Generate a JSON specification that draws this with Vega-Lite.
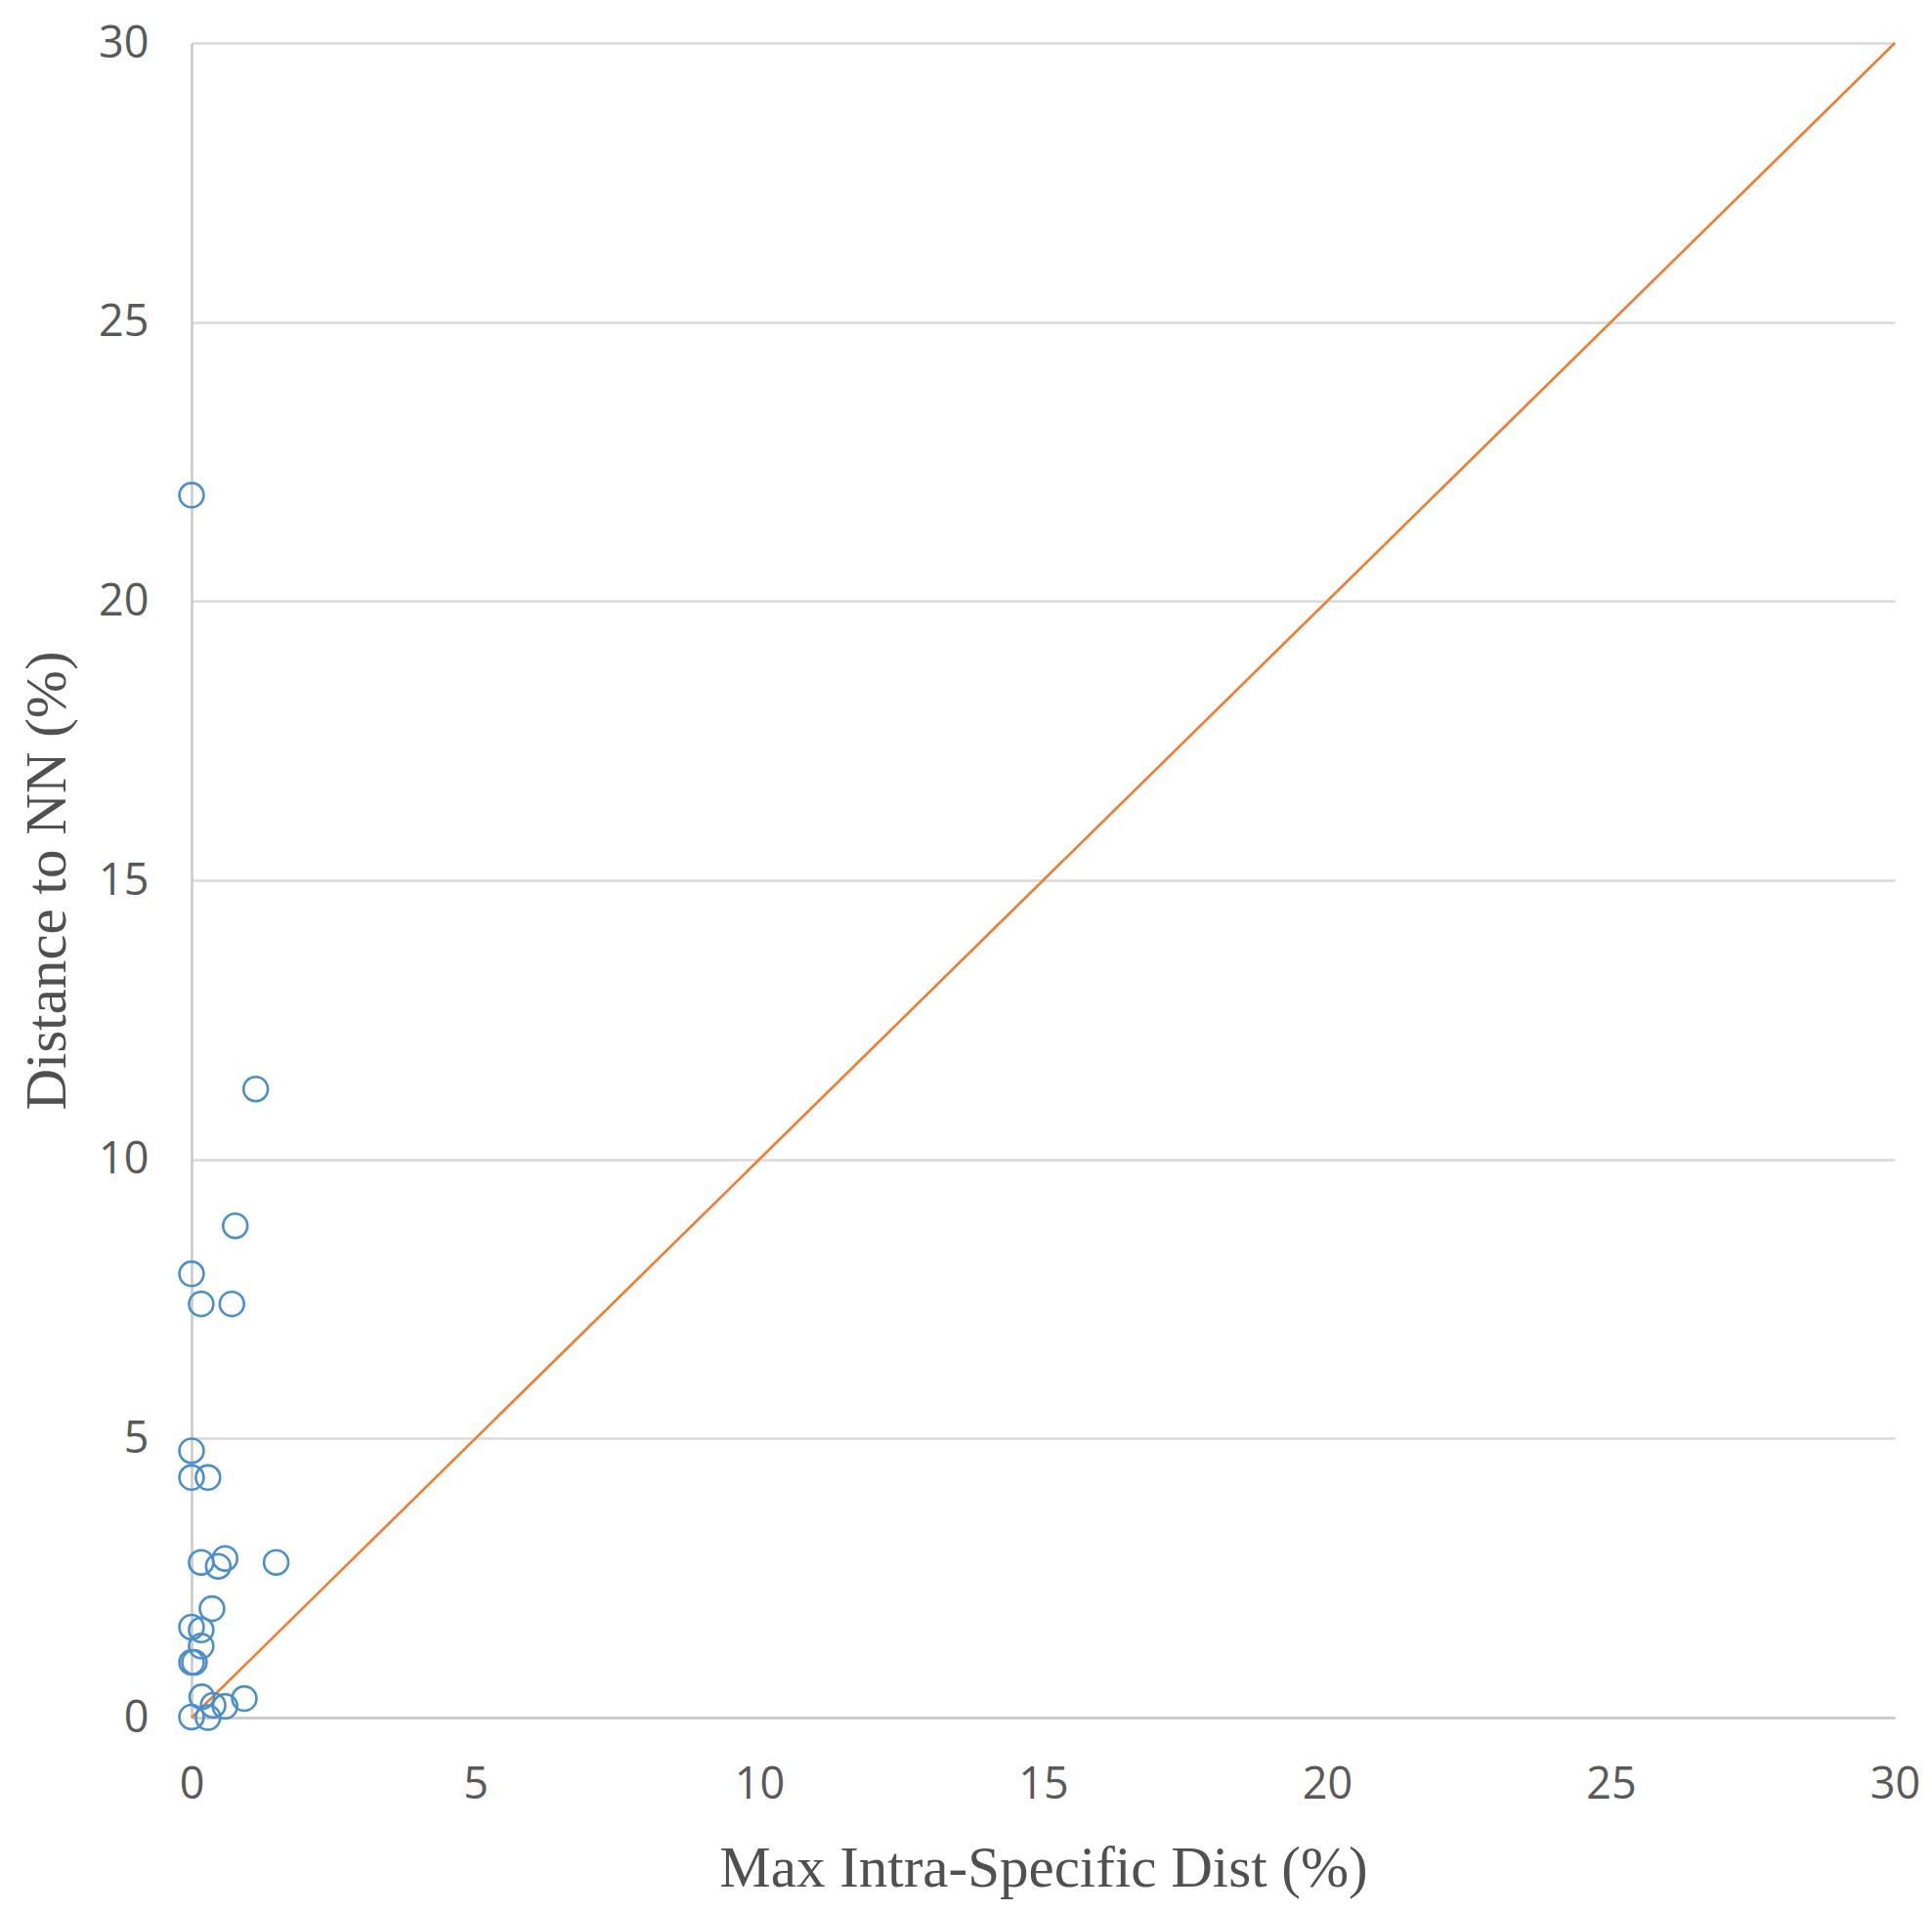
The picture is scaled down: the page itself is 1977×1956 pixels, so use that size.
{
  "$schema": "https://vega.github.io/schema/vega-lite/v6.json",
  "autosize": "none",
  "padding": {"left": 196, "top": 44, "right": 38, "bottom": 198},
  "width": 1743,
  "height": 1714,
  "background": "white",
  "config": {"view": {"stroke": null}},
  "datasets": {
    "points": [
      {"maxIntra": 0.0, "distNN": 21.9},
      {"maxIntra": 1.13, "distNN": 11.26},
      {"maxIntra": 0.77, "distNN": 8.81},
      {"maxIntra": 0.0, "distNN": 7.95},
      {"maxIntra": 0.17, "distNN": 7.41},
      {"maxIntra": 0.71, "distNN": 7.41},
      {"maxIntra": 0.0, "distNN": 4.78},
      {"maxIntra": 0.0, "distNN": 4.3},
      {"maxIntra": 0.29, "distNN": 4.3},
      {"maxIntra": 0.17, "distNN": 2.78},
      {"maxIntra": 0.59, "distNN": 2.85},
      {"maxIntra": 0.47, "distNN": 2.71},
      {"maxIntra": 1.49, "distNN": 2.78},
      {"maxIntra": 0.36, "distNN": 1.95},
      {"maxIntra": 0.0, "distNN": 1.62},
      {"maxIntra": 0.17, "distNN": 1.57},
      {"maxIntra": 0.17, "distNN": 1.28},
      {"maxIntra": 0.0, "distNN": 0.99},
      {"maxIntra": 0.05, "distNN": 0.99},
      {"maxIntra": 0.18, "distNN": 0.37},
      {"maxIntra": 0.93, "distNN": 0.34},
      {"maxIntra": 0.59, "distNN": 0.2},
      {"maxIntra": 0.38, "distNN": 0.22},
      {"maxIntra": 0.0, "distNN": 0.01},
      {"maxIntra": 0.29, "distNN": 0.0}
    ],
    "diag": [
      {"maxIntra": 0, "distNN": 0},
      {"maxIntra": 30, "distNN": 30}
    ]
  },
  "layer": [
    {
      "data": {"name": "diag"},
      "mark": {"type": "line", "color": "#ED7D31", "strokeWidth": 2.6},
      "encoding": {
        "x": {"field": "maxIntra", "type": "quantitative"},
        "y": {"field": "distNN", "type": "quantitative"}
      }
    },
    {
      "data": {"name": "points"},
      "mark": {"type": "point", "shape": "circle", "filled": false, "stroke": "#4A8FCC", "strokeWidth": 2.6, "size": 620, "opacity": 1},
      "encoding": {
        "x": {
          "field": "maxIntra",
          "type": "quantitative",
          "scale": {"domain": [0, 30], "nice": false, "zero": true},
          "axis": {
            "title": "Max Intra-Specific Dist (%)",
            "values": [0, 5, 10, 15, 20, 25, 30],
            "format": "d",
            "grid": false,
            "ticks": false,
            "domain": true,
            "domainColor": "#c8c8c8",
            "domainWidth": 2.5,
            "labelFont": "Open Sans",
            "labelFontSize": 45,
            "labelColor": "#595959",
            "labelPadding": 46,
            "labelFlush": false,
            "titleFont": "Liberation Serif",
            "titleFontSize": 59,
            "titleFontWeight": "normal",
            "titleColor": "#505050",
            "titlePadding": 34
          }
        },
        "y": {
          "field": "distNN",
          "type": "quantitative",
          "scale": {"domain": [0, 30], "nice": false, "zero": true},
          "axis": {
            "title": "Distance to NN (%)",
            "values": [0, 5, 10, 15, 20, 25, 30],
            "format": "d",
            "grid": true,
            "gridColor": "#dadada",
            "gridWidth": 2.5,
            "ticks": false,
            "domain": true,
            "domainColor": "#c8c8c8",
            "domainWidth": 2.5,
            "labelFont": "Open Sans",
            "labelFontSize": 45,
            "labelColor": "#595959",
            "labelPadding": 44,
            "labelFlush": false,
            "titleFont": "Liberation Serif",
            "titleFontSize": 59,
            "titleFontWeight": "normal",
            "titleColor": "#505050",
            "titlePadding": 22
          }
        }
      }
    }
  ]
}
